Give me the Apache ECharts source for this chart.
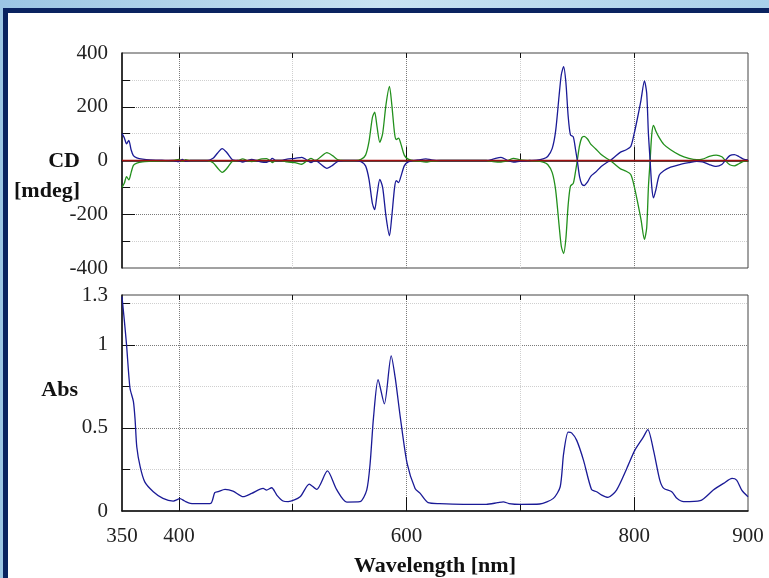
<!DOCTYPE html>
<html>
<head>
<meta charset="utf-8">
<script src="https://cdn.jsdelivr.net/npm/echarts@6/dist/echarts.min.js"></script>
<style>
html,body{margin:0;padding:0;}
#chart{width:769px;height:578px;}
</style>
</head>
<body>
<div id="chart"></div>
<script>
// ---- CD spectrum (shared wavelength grid) ----
const cdWl = [350,352,354,356,358,360,363,368,375,385,395,400,403,406,410,425,430,434,438,442,447,452,456,460,464,468,473,477,480,482,485,490,495,502,508,512,516,520,525,530,535,540,545,555,560,564,567,570,572,574,576.5,579,582,585,587,589.5,591,593,595,598,601,605,610,617,622,630,670,676,683,689,694,700,708,714,720,724,728,731,734,736,738,740,742,744,746.5,748.5,750,752,754,756,759,762,766,771,775,779,783,788,793,797,800,803,806,809,811,812.5,814,815.5,817,819,822,826,832,840,848,855,860,866,872,877,880,884,888,892,896,900];
const cdBlue = [100,85,62,75,40,18,10,5,2,1,0,-4,4,-3,0,0,8,28,44,30,3,0,-6,0,4,0,-6,-7,0,8,0,0,5,8,12,3,-8,0,-15,-29,-18,-2,0,0,-4,-20,-70,-160,-183,-130,-70,-100,-210,-280,-210,-100,-75,-82,-60,-20,-6,0,2,6,2,0,0,5,12,0,-6,-2,0,1,6,15,45,110,240,320,349,290,165,95,88,40,0,-60,-88,-93,-80,-58,-44,-22,-10,0,14,31,40,52,100,160,225,296,250,100,0,-100,-139,-110,-55,-38,-25,-15,-8,-3,-5,-15,-22,-15,0,18,22,15,5,2];
const cdGreen = [-100,-85,-60,-72,-45,-18,-10,-5,-3,-1,0,4,-3,3,0,0,-8,-28,-44,-30,-3,0,6,0,-4,0,6,7,0,-8,0,0,-5,-8,-14,-3,8,0,15,29,18,2,0,0,4,20,70,160,180,128,68,100,210,276,210,100,78,83,62,20,6,0,-2,-6,-2,0,0,-4,-6,0,8,2,0,-1,-6,-15,-45,-110,-240,-320,-346,-290,-165,-95,-85,-40,0,55,85,90,80,60,44,22,10,0,-14,-31,-40,-52,-95,-155,-220,-293,-250,-100,0,100,131,110,85,60,40,20,8,3,5,15,20,14,0,-16,-20,-12,-3,0];
const baseWl = [350,900];
const baseVal = [0,0];

// ---- Absorbance spectrum ----
const absWl = [350,352,354,357,360,361.5,363,366,370,377.5,386,395,401,405,410,420,428,431.5,434.5,440.5,447.5,456.5,464,474,477,481.5,486,491.5,496,506.5,514.5,521,530.5,538.5,547.5,559,565,568,571,575,580.5,586.5,590,594.5,600.5,607.5,612,619,629,650,670,680,685,690,700,717,729,735,738,742,745,749.5,755.5,762.5,767,771.5,777,784.5,793.5,800.5,808,812,817,822.5,826,833,837.5,843.5,858,869.5,878.5,886,890,894.5,900];
const absVal = [1.29,1.15,1.0,0.74,0.66,0.55,0.385,0.265,0.175,0.116,0.076,0.06,0.074,0.06,0.046,0.044,0.046,0.11,0.116,0.13,0.12,0.086,0.106,0.136,0.126,0.14,0.096,0.06,0.056,0.086,0.162,0.13,0.241,0.13,0.054,0.056,0.126,0.286,0.565,0.79,0.645,0.934,0.804,0.565,0.286,0.136,0.106,0.05,0.044,0.04,0.04,0.05,0.055,0.045,0.04,0.042,0.076,0.146,0.345,0.475,0.47,0.425,0.305,0.13,0.116,0.096,0.082,0.126,0.256,0.365,0.445,0.49,0.365,0.186,0.136,0.116,0.076,0.056,0.062,0.126,0.166,0.196,0.186,0.126,0.086];

// ---- Tick values / labels ----
const xLabelVals = [350,400,600,800,900];
const xGridTicks = [400,500,600,700,800];   // alternating major / minor
const xMajorTicks = [400,600,800];
const cdLabelVals = [-400,-200,0,200,400];
const cdGridTicks = [-300,-200,-100,0,100,200,300]; // minor / major alternating
const cdMajorTicks = [-200,0,200];
const absLabelVals = [0,0.5,1,1.3];
const absGridTicks = [0.25,0.5,0.75,1,1.25];
const absMajorTicks = [0.5,1];

const zip = (a,b) => a.map((v,i)=>[v,b[i]]);
const FONT = 'Liberation Serif';
const DARK = '#7a7a7a';
const LIGHT = '#cfcfcf';
const TICK_FS = 21;
const TITLE_FONT = 'bold 22px "Liberation Serif"';

function xBase(grid, labels, name) {
  return {
    type:'value', gridIndex:grid, min:350, max:900, position:'bottom',
    axisLine:{show:true, lineStyle:{color:'#111', width:1.5}},
    axisTick:{show:true, inside:true, length:7, customValues:xGridTicks, lineStyle:{color:'#111'}},
    axisLabel: labels ? {show:true, customValues:xLabelVals, margin:15, fontFamily:FONT, fontSize:TICK_FS, color:'#222'} : {show:false},
    splitLine:{show:true, lineStyle:{color:[DARK,LIGHT], type:'dotted', width:1}},
    name: name || '', nameLocation:'middle', nameGap:44,
    nameTextStyle:{fontFamily:FONT, fontSize:22, fontWeight:'bold', color:'#111'}
  };
}
function xTickOnly(grid, pos, vals, len) {
  return {
    type:'value', gridIndex:grid, min:350, max:900, position:pos,
    axisLine:{show:false}, axisLabel:{show:false}, splitLine:{show:false},
    axisTick:{show:true, inside:true, length:len, customValues:vals, lineStyle:{color:'#111'}}
  };
}
function yTickOnly(grid, min, max, vals, len) {
  return {
    type:'value', gridIndex:grid, min:min, max:max, position:'left',
    axisLine:{show:false}, axisLabel:{show:false}, splitLine:{show:false},
    axisTick:{show:true, inside:true, length:len, customValues:vals, lineStyle:{color:'#111'}}
  };
}

const chart = echarts.init(document.getElementById('chart'), null, {renderer:'canvas'});
chart.setOption({
  animation:false,
  backgroundColor:{type:'linear', x:0, y:0, x2:1, y2:0, colorStops:[{offset:0,color:'#9cc6e4'},{offset:0.5,color:'#c8e2f2'},{offset:1,color:'#a9d0ea'}]},
  graphic:[
    {type:'rect', z:-10, shape:{x:5.5, y:10.5, width:800, height:600}, style:{fill:'#ffffff', stroke:'#0a2360', lineWidth:5}},
    {type:'text', z:10, x:80, y:161, style:{text:'CD', font:TITLE_FONT, fill:'#111', align:'right', verticalAlign:'middle'}},
    {type:'text', z:10, x:80, y:191, style:{text:'[mdeg]', font:TITLE_FONT, fill:'#111', align:'right', verticalAlign:'middle'}},
    {type:'text', z:10, x:78, y:390, style:{text:'Abs', font:TITLE_FONT, fill:'#111', align:'right', verticalAlign:'middle'}}
  ],
  grid:[
    {left:122, top:53, width:626, height:215, show:true, borderColor:'#444', borderWidth:1, backgroundColor:'transparent'},
    {left:122, top:295, width:626, height:217, show:true, borderColor:'#444', borderWidth:1, backgroundColor:'transparent'}
  ],
  xAxis:[
    xBase(0,false),
    xBase(1,true,'Wavelength [nm]'),
    xTickOnly(0,'bottom',xMajorTicks,14),
    xTickOnly(1,'bottom',xMajorTicks,14),
    xTickOnly(0,'top',xGridTicks,5),
    xTickOnly(1,'top',xGridTicks,5)
  ],
  yAxis:[
    {type:'value', gridIndex:0, min:-400, max:400,
     axisLine:{show:true, lineStyle:{color:'#111', width:1.5}},
     axisTick:{show:true, inside:true, length:8, customValues:cdGridTicks, lineStyle:{color:'#111'}},
     axisLabel:{show:true, customValues:cdLabelVals, margin:14, fontFamily:FONT, fontSize:TICK_FS, color:'#222'},
     splitLine:{show:true, lineStyle:{color:[LIGHT,DARK], type:'dotted', width:1}}},
    {type:'value', gridIndex:1, min:0, max:1.3,
     axisLine:{show:true, lineStyle:{color:'#111', width:1.5}},
     axisTick:{show:true, inside:true, length:8, customValues:absGridTicks, lineStyle:{color:'#111'}},
     axisLabel:{show:true, customValues:absLabelVals, margin:14, fontFamily:FONT, fontSize:TICK_FS, color:'#222'},
     splitLine:{show:true, lineStyle:{color:[LIGHT,DARK], type:'dotted', width:1}}},
    yTickOnly(0,-400,400,cdMajorTicks,13),
    yTickOnly(1,0,1.3,absMajorTicks,13)
  ],
  series:[
    {type:'line', xAxisIndex:0, yAxisIndex:0, data:zip(cdWl,cdGreen), showSymbol:false, smooth:0.25, lineStyle:{color:'#22901c', width:1.3}, z:3},
    {type:'line', xAxisIndex:0, yAxisIndex:0, data:zip(cdWl,cdBlue), showSymbol:false, smooth:0.25, lineStyle:{color:'#1a1a96', width:1.3}, z:4},
    {type:'line', xAxisIndex:0, yAxisIndex:0, data:zip(baseWl,baseVal), showSymbol:false, lineStyle:{color:'#a01010', width:1.5}, z:5},
    {type:'line', xAxisIndex:1, yAxisIndex:1, data:zip(absWl,absVal), showSymbol:false, smooth:0.25, lineStyle:{color:'#1a1a96', width:1.3}, z:4}
  ]
});
</script>
</body>
</html>
